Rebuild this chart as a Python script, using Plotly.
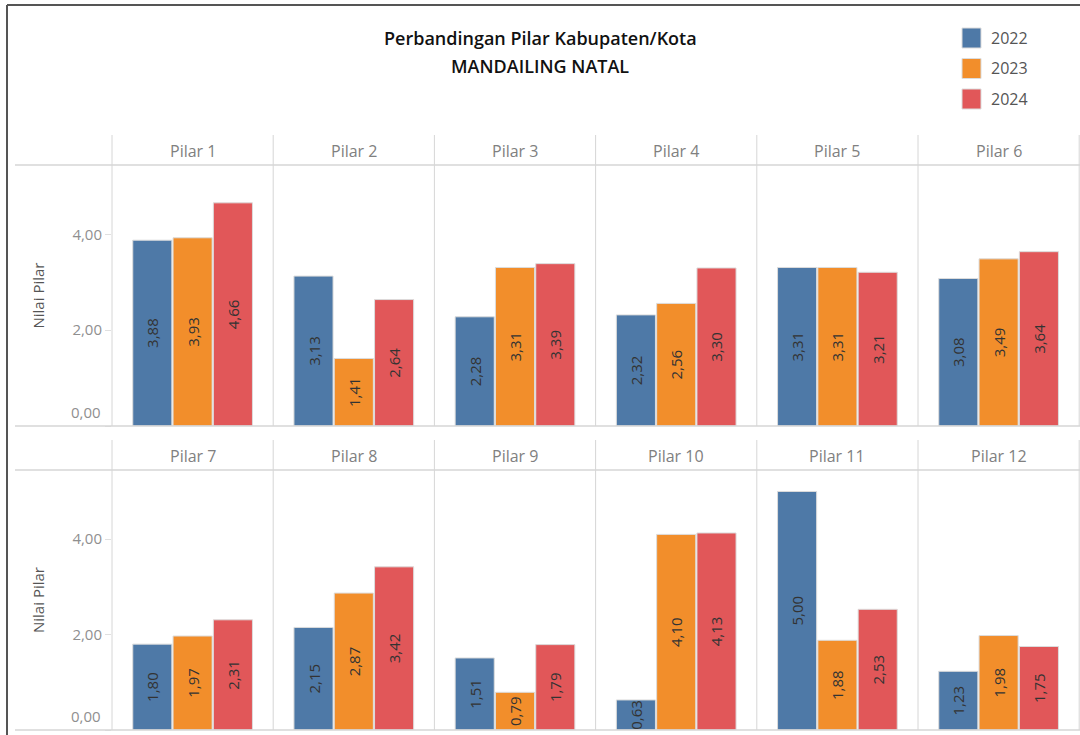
import plotly.graph_objects as go

# ---------------- data ----------------
pillars = [f"Pilar {i}" for i in range(1, 13)]
years = ["2022", "2023", "2024"]
v2022 = [3.88, 3.13, 2.28, 2.32, 3.31, 3.08, 1.80, 2.15, 1.51, 0.63, 5.00, 1.23]
v2023 = [3.93, 1.41, 3.31, 2.56, 3.31, 3.49, 1.97, 2.87, 0.79, 4.10, 1.88, 1.98]
v2024 = [4.66, 2.64, 3.39, 3.30, 3.21, 3.64, 2.31, 3.42, 1.79, 4.13, 2.53, 1.75]
tick_vals = [0, 2, 4]
tick_text = ["", "2,00", "4,00"]
title_line1 = "Perbandingan Pilar Kabupaten/Kota"
title_line2 = "MANDAILING NATAL"
y_title = "Nilai Pilar"

# ---------------- style ----------------
W, H = 1080, 735
colors = ["#4e79a7", "#f28e2b", "#e15759"]
FONT = "Open Sans"
GRID = "#d6d6d6"
X0, CW = 112, 161.2            # first column left edge, column width (px)
ROWS = [(135, 165, 426), (440, 470, 730)]  # header top, plot top, plot bottom
YMAX = 5.45


def xp(px):
    return px / W


def yp(py):
    return 1 - py / H


fig = go.Figure()
layout = {}
annotations = []
shapes = []

for i, name in enumerate(pillars):
    r, c = divmod(i, 6)
    k = i + 1
    xs = "" if k == 1 else str(k)
    htop, ptop, pbot = ROWS[r]
    vals = [v2022[i], v2023[i], v2024[i]]
    fig.add_trace(go.Bar(
        x=years, y=vals,
        marker=dict(color=colors, line=dict(color="#dcdcdc", width=1)),
        texttemplate="%{y:.2f}", textposition="inside", insidetextanchor="middle",
        textangle=-90, constraintext="none",
        textfont=dict(family=FONT, size=15, color="#333333"),
        xaxis="x" + xs, yaxis="y" + xs, showlegend=False, hoverinfo="x+y",
    ))
    layout["xaxis" + xs] = dict(
        domain=[xp(X0 + CW * c), xp(X0 + CW * (c + 1))], anchor="y" + xs,
        type="category", range=[-1, 3], showticklabels=False, showgrid=False,
        zeroline=False, showline=False, fixedrange=True,
    )
    ya = dict(
        domain=[yp(pbot), yp(ptop)], anchor="x" + xs, range=[0, YMAX],
        showgrid=False, zeroline=False, showline=False, fixedrange=True,
        tickvals=tick_vals,
    )
    if c == 0:
        ya.update(ticktext=tick_text, ticks="outside", ticklen=6, tickcolor="#e0e0e0",
                  tickfont=dict(family=FONT, size=15, color="#8f8f8f"))
        annotations.append(dict(
            text="0,00", x=xp(103), xref="paper", xanchor="right",
            y=yp(pbot), yref="paper", yanchor="bottom", yshift=2, showarrow=False,
            font=dict(family=FONT, size=15, color="#8f8f8f"),
        ))
        annotations.append(dict(
            text=y_title, textangle=-90, x=xp(38), xref="paper", xanchor="center",
            y=yp((ptop + pbot) / 2), yref="paper", yanchor="middle", showarrow=False,
            font=dict(family=FONT, size=15, color="#555555"),
        ))
    else:
        ya.update(showticklabels=False, ticks="")
    layout["yaxis" + xs] = ya

    # header label
    annotations.append(dict(
        text=name, x=xp(X0 + CW * (c + 0.5)), xref="paper", xanchor="center",
        y=yp((htop + ptop) / 2 + 1), yref="paper", yanchor="middle", showarrow=False,
        font=dict(family=FONT, size=16, color="#808080"),
    ))

# grid lines
for htop, ptop, pbot in ROWS:
    for c in range(7):
        shapes.append(dict(type="line", xref="paper", yref="paper",
                           x0=xp(X0 + CW * c), x1=xp(X0 + CW * c),
                           y0=yp(htop), y1=yp(pbot), line=dict(color=GRID, width=1)))
    for py in (ptop, pbot):
        shapes.append(dict(type="line", xref="paper", yref="paper",
                           x0=xp(15), x1=1, y0=yp(py), y1=yp(py),
                           line=dict(color=GRID, width=1.5)))

# outer border (left + top)
shapes.append(dict(type="line", xref="paper", yref="paper", x0=xp(7), x1=xp(7),
                   y0=0, y1=yp(5), line=dict(color="#555555", width=2)))
shapes.append(dict(type="line", xref="paper", yref="paper", x0=xp(7), x1=1,
                   y0=yp(5), y1=yp(5), line=dict(color="#555555", width=2)))

# title
annotations.append(dict(text=title_line1, x=xp(540), y=yp(38), xref="paper", yref="paper",
                        xanchor="center", yanchor="middle", showarrow=False,
                        font=dict(family=FONT, size=18, color="#111111", weight=600)))
annotations.append(dict(text=title_line2, x=xp(540), y=yp(66), xref="paper", yref="paper",
                        xanchor="center", yanchor="middle", showarrow=False,
                        font=dict(family=FONT, size=18, color="#111111", weight=600)))

# legend
for j, yr in enumerate(years):
    cy = 38 + 30.5 * j
    shapes.append(dict(type="rect", xref="paper", yref="paper",
                       x0=xp(962), x1=xp(981), y0=yp(cy - 10), y1=yp(cy + 10),
                       fillcolor=colors[j], line=dict(color="#dcdcdc", width=1)))
    annotations.append(dict(text=yr, x=xp(989), y=yp(cy), xref="paper", yref="paper",
                            xanchor="left", yanchor="middle", showarrow=False,
                            font=dict(family=FONT, size=16, color="#555555")))

fig.update_layout(
    width=W, height=H, margin=dict(l=0, r=0, t=0, b=0),
    paper_bgcolor="white", plot_bgcolor="white",
    bargap=0.03, separators=",.", showlegend=False,
    annotations=annotations, shapes=shapes, **layout,
)

fig.write_html("out.html", config={"displayModeBar": False},
               post_script="document.body.style.margin='0';")
